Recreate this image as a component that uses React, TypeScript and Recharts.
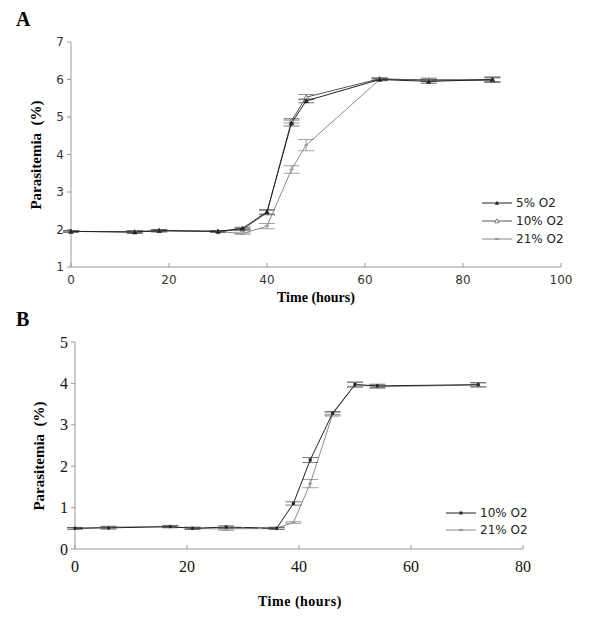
import { LineChart, Line, XAxis, YAxis, ErrorBar, Legend } from 'recharts';

// Panel A
const hoursA = [0, 13, 18, 30, 35, 40, 45, 48, 63, 73, 86];
const pA5 = [1.95, 1.93, 1.97, 1.95, 2.03, 2.47, 4.84, 5.43, 6.0, 5.95, 6.0];
const eA5 = [0.02, 0.03, 0.03, 0.02, 0.03, 0.06, 0.08, 0.05, 0.03, 0.05, 0.06];
const pA10 = [1.95, 1.94, 1.97, 1.95, 2.0, 2.45, 4.9, 5.53, 6.02, 5.98, 5.98];
const eA10 = [0.02, 0.03, 0.03, 0.02, 0.03, 0.06, 0.06, 0.07, 0.03, 0.04, 0.06];
const pA21 = [1.95, 1.94, 1.97, 1.95, 1.89, 2.09, 3.6, 4.25, 6.0, 6.0, 6.0];
const eA21 = [0.02, 0.03, 0.03, 0.02, 0.02, 0.07, 0.1, 0.15, 0.03, 0.04, 0.07];
const ticksA_x = [0, 20, 40, 60, 80, 100];
const ticksA_y = [1, 2, 3, 4, 5, 6, 7];

// Panel B
const hoursB10 = [0, 6, 17, 21, 27, 36, 39, 42, 46, 50, 54, 72];
const pB10 = [0.5, 0.51, 0.54, 0.5, 0.53, 0.5, 1.1, 2.15, 3.28, 3.97, 3.94, 3.97];
const eB10 = [0.02, 0.03, 0.02, 0.02, 0.03, 0.02, 0.04, 0.06, 0.04, 0.06, 0.04, 0.05];
const hoursB21 = [0, 6, 17, 21, 27, 30, 33, 36, 39, 42, 46, 50, 54, 72];
const pB21 = [0.5, 0.53, 0.54, 0.5, 0.48, 0.5, 0.5, 0.5, 0.64, 1.58, 3.25, 3.98, 3.92, 3.96];
const eB21 = [0.02, 0.02, 0.03, 0.03, 0.03, 0.01, 0.01, 0.03, 0.02, 0.1, 0.04, 0.05, 0.04, 0.05];
const ticksB_x = [0, 20, 40, 60, 80];
const ticksB_y = [0, 1, 2, 3, 4, 5];

const zip = (t: number[], v: number[], e: number[]) => t.map((x, i) => ({ t: x, v: v[i], e: e[i] }));

const axisGrey = '#999';
const sans = '"DejaVu Sans", sans-serif';
const serif = '"Liberation Serif", "DejaVu Serif", serif';

const triDot = (fill: string, stroke: string) => (p: any) => {
  const { cx, cy, index } = p;
  if (cx == null || cy == null) return <g key={`n${index}`} />;
  return (
    <path
      key={`d${index}`}
      d={`M${cx},${cy - 2.2}L${cx + 2.2},${cy + 1.8}L${cx - 2.2},${cy + 1.8}Z`}
      fill={fill}
      stroke={stroke}
      strokeWidth={0.7}
    />
  );
};

const sqDot = (fill: string) => (p: any) => {
  const { cx, cy, index } = p;
  if (cx == null || cy == null) return <g key={`n${index}`} />;
  return <rect key={`d${index}`} x={cx - 1.5} y={cy - 1.5} width={3} height={3} fill={fill} />;
};

const dashDot = (stroke: string) => (p: any) => {
  const { cx, cy, index } = p;
  if (cx == null || cy == null) return <g key={`n${index}`} />;
  return <line key={`d${index}`} x1={cx - 2} x2={cx + 2} y1={cy} y2={cy} stroke={stroke} strokeWidth={1.5} />;
};

type Item = { label: string; color: string; mark: 'tri' | 'open' | 'dash' | 'sq' };

const legendBox = (items: Item[], fontSize: number, rowH: number) => () => (
  <div style={{ fontFamily: sans, fontSize, color: '#222' }}>
    {items.map((it) => (
      <div key={it.label} style={{ display: 'flex', alignItems: 'center', height: rowH }}>
        <svg width={31} height={10} style={{ marginRight: 3 }}>
          <line x1={0} x2={30} y1={5} y2={5} stroke={it.color} strokeWidth={1} />
          {it.mark === 'tri' && <path d="M15,2.8L17.2,6.8L12.8,6.8Z" fill={it.color} />}
          {it.mark === 'open' && <path d="M15,2.8L17.2,6.8L12.8,6.8Z" fill="#fff" stroke={it.color} strokeWidth={0.7} />}
          {it.mark === 'dash' && <line x1={13} x2={17} y1={5} y2={5} stroke={it.color} strokeWidth={1.5} />}
          {it.mark === 'sq' && <rect x={13.5} y={3.5} width={3} height={3} fill={it.color} />}
        </svg>
        <span>{it.label}</span>
      </div>
    ))}
  </div>
);

const legendA: Item[] = [
  { label: '5% O2', color: '#222', mark: 'tri' },
  { label: '10% O2', color: '#555', mark: 'open' },
  { label: '21% O2', color: '#888', mark: 'dash' },
];
const legendB: Item[] = [
  { label: '10% O2', color: '#222', mark: 'sq' },
  { label: '21% O2', color: '#888', mark: 'dash' },
];

export default function App() {
  return (
    <div style={{ position: 'absolute', left: 0, top: 0, width: 600, height: 627, background: '#fff' }}>
      <div style={{ position: 'absolute', left: 16, top: 8, font: `bold 20px ${serif}` }}>A</div>
      <div style={{ position: 'absolute', left: 16, top: 308, font: `bold 20px ${serif}` }}>B</div>

      <div
        style={{
          position: 'absolute', left: 36 - 100, top: 155 - 9, width: 200, textAlign: 'center',
          transform: 'rotate(-90deg)', font: `bold 15px ${serif}`, whiteSpace: 'pre', lineHeight: '18px',
        }}
      >
        {'Parasitemia  (%)'}
      </div>
      <div style={{ position: 'absolute', left: 216, top: 290, width: 200, textAlign: 'center', font: `bold 14px ${serif}`, lineHeight: '16px' }}>
        Time (hours)
      </div>

      <div
        style={{
          position: 'absolute', left: 39 - 100, top: 456 - 9, width: 200, textAlign: 'center',
          transform: 'rotate(-90deg)', font: `bold 15px ${serif}`, whiteSpace: 'pre', lineHeight: '18px',
        }}
      >
        {'Parasitemia  (%)'}
      </div>
      <div style={{ position: 'absolute', left: 200, top: 594, width: 200, textAlign: 'center', font: `bold 14px ${serif}`, lineHeight: '16px', letterSpacing: 0.5 }}>
        Time (hours)
      </div>

      <div style={{ position: 'absolute', left: 0, top: 0 }}>
        <LineChart width={600} height={300} margin={{ top: 42, right: 39, bottom: 8, left: 41 }}>
          <XAxis
            type="number" dataKey="t" domain={[0, 100]} ticks={ticksA_x} allowDuplicatedCategory={false}
            stroke={axisGrey} height={25} tickSize={-4} tickMargin={12}
            tick={{ fill: '#333', fontSize: 12, fontFamily: sans }}
          />
          <YAxis
            type="number" dataKey="v" domain={[1, 7]} ticks={ticksA_y} width={30}
            stroke={axisGrey} tickSize={4} tickMargin={3}
            tick={{ fill: '#333', fontSize: 12, fontFamily: sans }}
          />
          <Line data={zip(hoursA, pA21, eA21)} dataKey="v" name="21% O2" stroke="#8a8a8a" strokeWidth={1}
            dot={dashDot('#999')} activeDot={false} isAnimationActive={false}>
            <ErrorBar dataKey="e" direction="y" width={8} stroke="#888" strokeWidth={0.8} />
          </Line>
          <Line data={zip(hoursA, pA10, eA10)} dataKey="v" name="10% O2" stroke="#555" strokeWidth={1}
            dot={triDot('#fff', '#555')} activeDot={false} isAnimationActive={false}>
            <ErrorBar dataKey="e" direction="y" width={8} stroke="#777" strokeWidth={0.8} />
          </Line>
          <Line data={zip(hoursA, pA5, eA5)} dataKey="v" name="5% O2" stroke="#222" strokeWidth={1}
            dot={triDot('#222', '#222')} activeDot={false} isAnimationActive={false}>
            <ErrorBar dataKey="e" direction="y" width={8} stroke="#555" strokeWidth={0.8} />
          </Line>
          <Legend layout="vertical" align="center" verticalAlign="middle"
            wrapperStyle={{ left: 482, top: 194, width: 100 }} content={legendBox(legendA, 12, 18)} />
        </LineChart>
      </div>

      <div style={{ position: 'absolute', left: 0, top: 300 }}>
        <LineChart width={600} height={300} margin={{ top: 42, right: 77, bottom: 20, left: 45 }}>
          <XAxis
            type="number" dataKey="t" domain={[0, 80]} ticks={ticksB_x} allowDuplicatedCategory={false}
            stroke={axisGrey} height={31} tickSize={-4} tickMargin={16}
            tick={{ fill: '#111', fontSize: 16, fontFamily: serif }}
          />
          <YAxis
            type="number" dataKey="v" domain={[0, 5]} ticks={ticksB_y} width={30}
            stroke={axisGrey} tickSize={4} tickMargin={3}
            tick={{ fill: '#111', fontSize: 16, fontFamily: serif }}
          />
          <Line data={zip(hoursB21, pB21, eB21)} dataKey="v" name="21% O2" stroke="#8a8a8a" strokeWidth={1}
            dot={dashDot('#999')} activeDot={false} isAnimationActive={false}>
            <ErrorBar dataKey="e" direction="y" width={8} stroke="#888" strokeWidth={0.8} />
          </Line>
          <Line data={zip(hoursB10, pB10, eB10)} dataKey="v" name="10% O2" stroke="#222" strokeWidth={1}
            dot={sqDot('#222')} activeDot={false} isAnimationActive={false}>
            <ErrorBar dataKey="e" direction="y" width={8} stroke="#555" strokeWidth={0.8} />
          </Line>
          <Legend layout="vertical" align="center" verticalAlign="middle"
            wrapperStyle={{ left: 446, top: 204, width: 100 }} content={legendBox(legendB, 12, 17)} />
        </LineChart>
      </div>
    </div>
  );
}
